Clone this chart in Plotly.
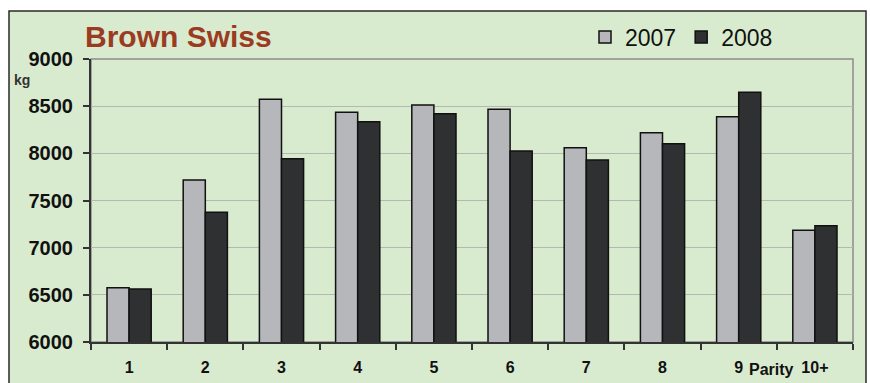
import plotly.graph_objects as go

categories = ["1", "2", "3", "4", "5", "6", "7", "8", "9", "10+"]
values_2007 = [6576, 7717, 8573, 8435, 8512, 8467, 8060, 8219, 8388, 7184]
values_2008 = [6562, 7375, 7943, 8336, 8420, 8025, 7929, 8102, 8647, 7233]
series_names = ["2007", "2008"]
y_ticks = [6000, 6500, 7000, 7500, 8000, 8500, 9000]

W, H = 870, 383
L, R, T, B = 91, 17, 59, 41
pw, ph = W - L - R, H - T - B

def px(x):
    return (x - L) / pw

def py(y):
    return (H - B - y) / ph

FONT = "Liberation Sans, Arial, sans-serif"
BG = "#d9ebcf"

fig = go.Figure()
fig.add_trace(go.Bar(x=categories, y=values_2007, name=series_names[0],
                     marker=dict(color="#b6b7bb", line=dict(color="#111111", width=1.5))))
fig.add_trace(go.Bar(x=categories, y=values_2008, name=series_names[1],
                     marker=dict(color="#2f3032", line=dict(color="#111111", width=1.5))))

shapes = [
    dict(type="rect", xref="paper", yref="paper", x0=px(9), x1=px(866), y0=py(11), y1=py(395),
         fillcolor=BG, line=dict(color="#2a2a2a", width=1.5), layer="below"),
    dict(type="rect", xref="paper", yref="paper", x0=0, x1=1, y0=0, y1=1,
         fillcolor="rgba(0,0,0,0)", line=dict(color="#8c8c8c", width=1.5), layer="below"),
]

annotations = [
    dict(text="Brown Swiss", xref="paper", yref="paper", x=px(83), y=py(36),
         xanchor="left", yanchor="middle", showarrow=False,
         font=dict(family=FONT, size=30, color="#9b3b22", weight="bold")),
    dict(text="kg", xref="paper", yref="paper", x=px(12), y=py(80),
         xanchor="left", yanchor="middle", showarrow=False,
         font=dict(family=FONT, size=14, color="#333333", weight="bold")),
    dict(text="Parity", xref="paper", yref="paper", x=px(771), y=py(369),
         xanchor="center", yanchor="middle", showarrow=False,
         font=dict(family=FONT, size=16, color="#111111", weight="bold")),
]

fig.update_layout(
    width=W, height=H,
    margin=dict(l=L, r=R, t=T, b=B, pad=0, autoexpand=False),
    paper_bgcolor="white",
    plot_bgcolor="rgba(0,0,0,0)",
    barmode="group", bargap=0.42, bargroupgap=0,
    font=dict(family=FONT, color="#111111"),
    showlegend=True,
    legend=dict(orientation="h", x=px(585), y=py(37), xanchor="left", yanchor="middle",
                bgcolor="rgba(0,0,0,0)", font=dict(family=FONT, size=23, color="#111111"),
                itemwidth=30, tracegroupgap=0),
    shapes=shapes,
    annotations=annotations,
    xaxis=dict(type="category", showline=True, linecolor="#333333", linewidth=2,
               ticks="outside", tickson="boundaries", ticklen=6, tickcolor="#333333",
               tickwidth=1.5, showgrid=False, ticklabelstandoff=10, automargin=False,
               tickfont=dict(family=FONT, size=16, color="#111111", weight="bold")),
    yaxis=dict(range=[6000, 9000], tickvals=y_ticks, showline=True, linecolor="#333333",
               linewidth=2, ticks="outside", ticklen=6, tickcolor="#333333", tickwidth=1.5,
               showgrid=True, gridcolor="#b3b8b0", gridwidth=1.2, zeroline=False,
               ticklabelstandoff=6, automargin=False,
               tickfont=dict(family=FONT, size=20, color="#111111", weight="bold")),
)

fig.write_html("out.html", config={"displayModeBar": False},
               post_script="document.body.style.margin='0';document.body.style.padding='0';")
